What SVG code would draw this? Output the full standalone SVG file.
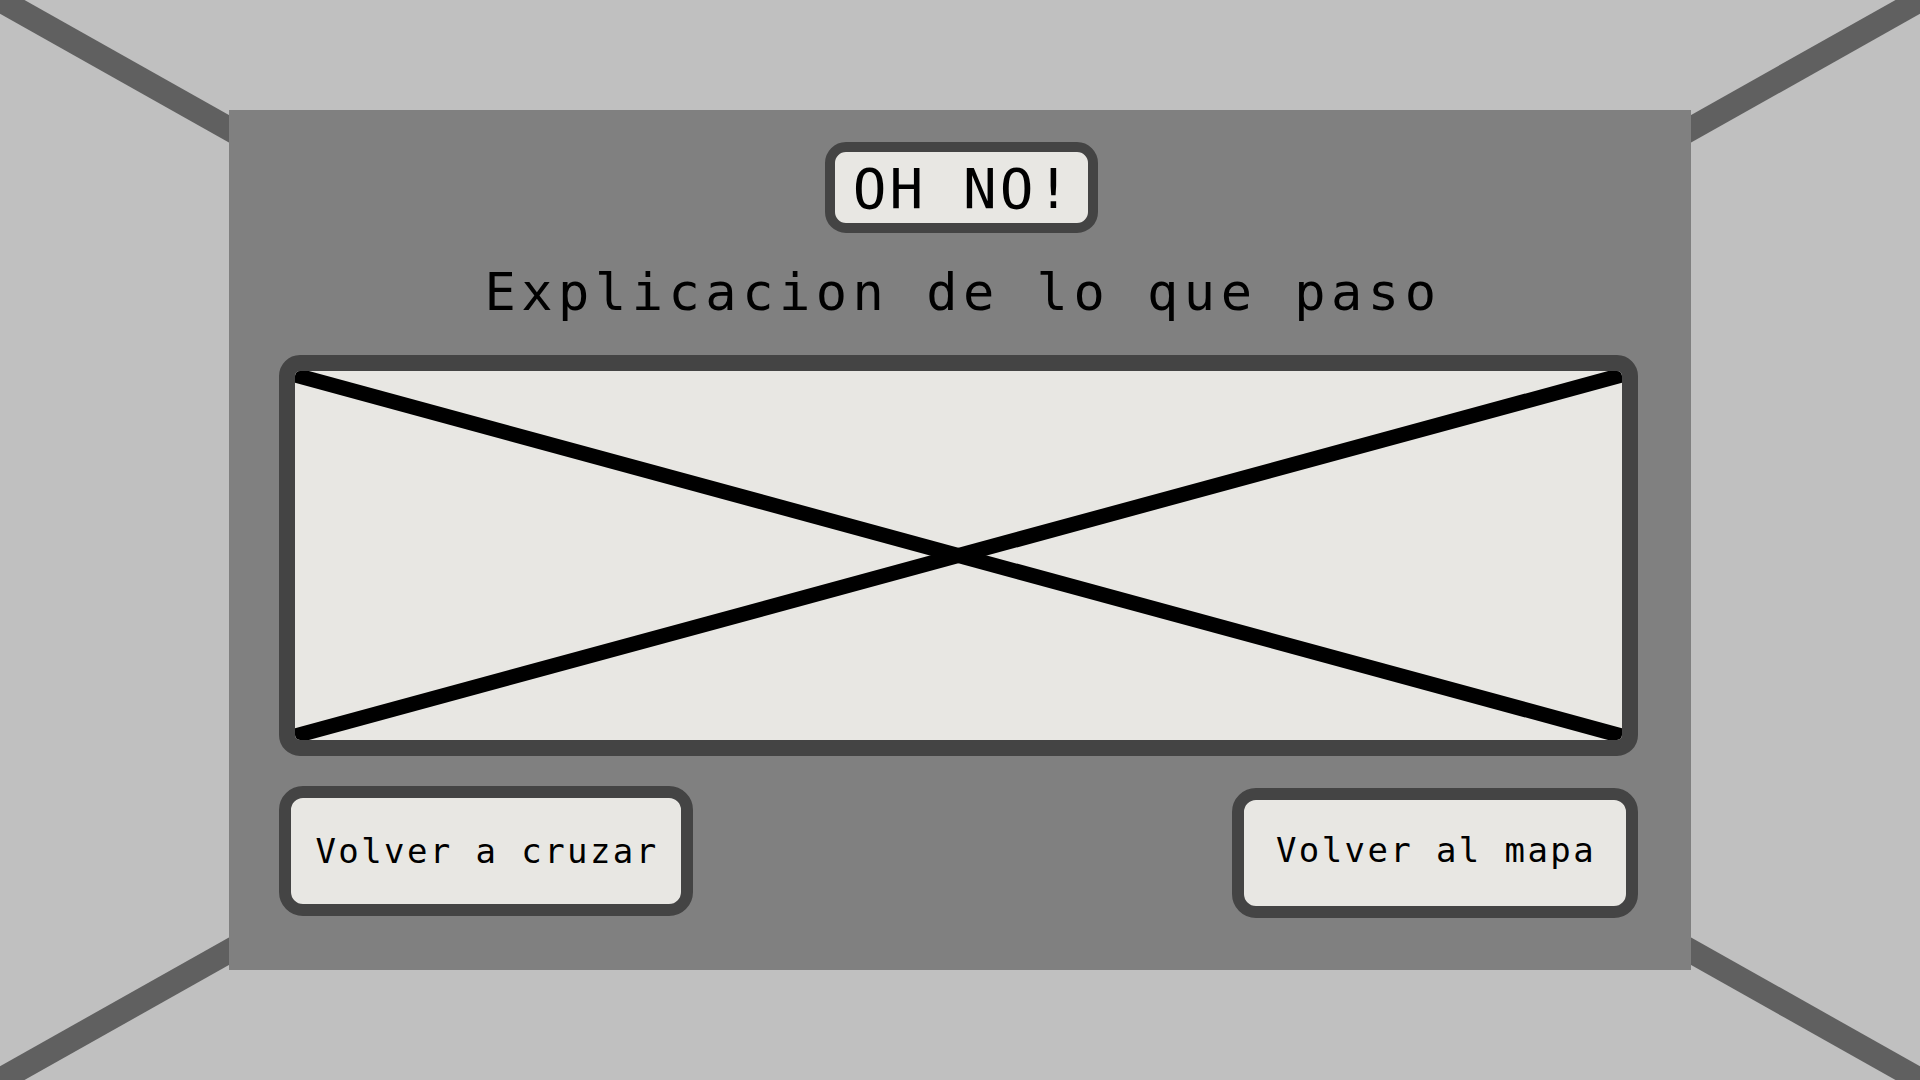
<svg xmlns="http://www.w3.org/2000/svg" width="1920" height="1080" viewBox="0 0 1920 1080">
<defs>
<style>
.frame{fill:#e8e7e3;stroke:#444444}
.mono{font-family:"DejaVu Sans Mono","Liberation Mono",monospace;fill:#000000;text-anchor:middle}
.cross{stroke:#000000;stroke-width:15}
.diag{stroke:#606060;stroke-width:24}
</style>
<clipPath id="imgclip"><rect x="295" y="371" width="1327" height="369" rx="5"/></clipPath>
</defs>
<rect x="0" y="0" width="1920" height="1080" fill="#c0c0c0"/>
<g id="background-lines">
<line class="diag" x1="0" y1="0" x2="1920" y2="1080"/>
<line class="diag" x1="1920" y1="0" x2="0" y2="1080"/>
</g>
<g id="panel">
<rect x="229" y="110" width="1462" height="860" fill="#808080"/>
</g>
<g id="title-box">
<rect class="frame" x="830" y="147" width="263" height="81" rx="16" stroke-width="10"/>
<text class="mono" x="963" y="208" font-size="56" letter-spacing="3">OH NO!</text>
</g>
<g id="subtitle">
<text class="mono" x="963" y="310" font-size="52" letter-spacing="5.5">Explicacion de lo que paso</text>
</g>
<g id="image-placeholder">
<rect x="295" y="371" width="1327" height="369" fill="#e8e7e3"/>
<g clip-path="url(#imgclip)">
<line class="cross" x1="295" y1="375" x2="1622" y2="736"/>
<line class="cross" x1="1622" y1="375" x2="295" y2="736"/>
</g>
<rect x="287" y="363" width="1343" height="385" rx="13" fill="none" stroke="#444444" stroke-width="16"/>
</g>
<g id="btn-retry">
<rect class="frame" x="285" y="792" width="402" height="118" rx="18" stroke-width="12"/>
<text class="mono" x="487" y="863" font-size="34" letter-spacing="2.4">Volver a cruzar</text>
</g>
<g id="btn-map">
<rect class="frame" x="1238" y="794" width="394" height="118" rx="18" stroke-width="12"/>
<text class="mono" x="1436" y="862" font-size="34" letter-spacing="2.4">Volver al mapa</text>
</g>
<g id="connectors"></g>
</svg>
